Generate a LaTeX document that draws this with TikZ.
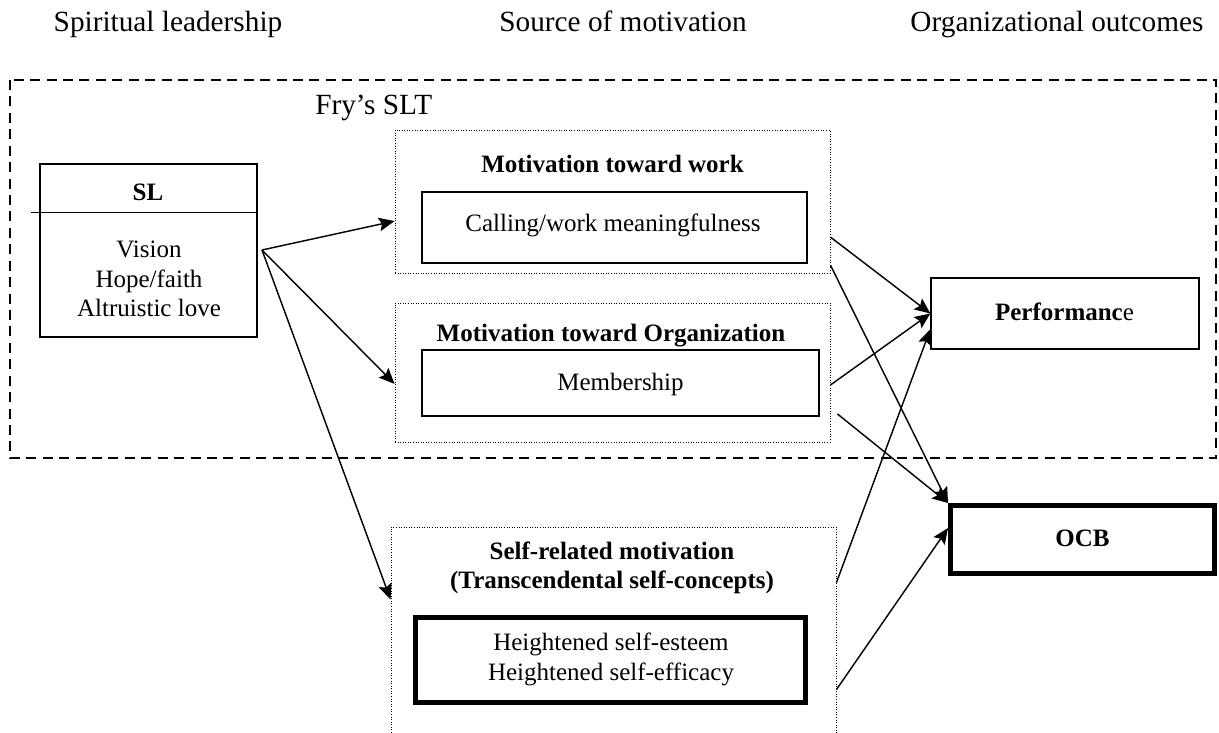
\documentclass[tikz,border=0pt]{standalone}
\usepackage{fontspec}
\setmainfont{Liberation Serif}
\usetikzlibrary{arrows.meta}

\begin{document}
\begin{tikzpicture}[x=0.7pt, y=-0.7pt,
	box/.style={draw, line width=0.9pt, inner sep=0pt},
	dotbox/.style={draw, line width=0.6pt, dash pattern=on 0.6pt off 1.2pt, inner sep=0pt},
	heavybox/.style={draw, line width=3.5pt, inner sep=0pt},
	txt/.style={font=\fontsize{17.5}{20.6}\selectfont, align=center, inner sep=0pt, anchor=base},
	btxt/.style={txt, font=\fontsize{17.5}{20}\selectfont\bfseries},
	head/.style={font=\fontsize{20.5}{24}\selectfont, inner sep=0pt, anchor=base},
	link/.style={-{Stealth[length=11pt,width=9.5pt,inset=2pt]}, line width=1pt}]
	\useasboundingbox (0,0) rectangle (1219,733);
	\clip (0,0) rectangle (1219,733);

	% column heads
	\node[head] (head-sl) at (168,32) {Spiritual leadership};
	\node[head] (head-src) at (623,32) {Source of motivation};
	\node[head] (head-out) at (1057,32) {Organizational outcomes};

	% Fry's theory frame
	\draw[line width=1.4pt, dash pattern=on 7pt off 4.5pt] (10,80) rectangle (1216,458);
	\node[head, anchor=base west] (fry) at (315,115) {Fry's SLT};

	% spiritual leadership box (base of a multi-line node = last line)
	\node[box, minimum width=151.9pt, minimum height=121.1pt] (SL) at (148.5,250.5) {};
	\draw[line width=0.9pt] ([xshift=-5.6pt,yshift=-34.3pt]SL.north west) -- ([yshift=-34.3pt]SL.north east);
	\node[btxt] (SL-title) at (148,200) {SL};
	\node[txt] (SL-items) at (149,316.7) {Vision\\Hope/faith\\Altruistic love};

	% sources of motivation
	\node[dotbox, minimum width=304.5pt, minimum height=100.1pt] (work) at (612.5,201.5) {};
	\node[btxt] (work-title) at (612.5,172.7) {Motivation toward work};
	\node[box, minimum width=269.5pt, minimum height=49.7pt] (calling) at (614.5,227.5) {};
	\node[txt] (calling-txt) at (613,231.7) {Calling/work meaningfulness};

	\node[dotbox, minimum width=304.5pt, minimum height=97.3pt] (org) at (612.5,372.5) {};
	\node[btxt] (org-title) at (611,341) {Motivation toward Organization};
	\node[box, minimum width=277.9pt, minimum height=46.2pt] (member) at (620.5,383) {};
	\node[txt] (member-txt) at (620.5,390.7) {Membership};

	\node[dotbox, minimum width=311.5pt, minimum height=191.1pt] (self) at (613.5,663.5) {};
	\node[btxt] (self-title) at (612,588) {Self-related motivation\\(Transcendental self-concepts)};
	\node[heavybox, minimum width=273pt, minimum height=59.5pt] (selfcon) at (610.5,660) {};
	\node[txt] (selfcon-txt) at (611,680) {Heightened self-esteem\\Heightened self-efficacy};

	% outcomes
	\node[box, minimum width=187.6pt, minimum height=49.7pt] (perf) at (1065,313.5) {};
	\node[txt] (perf-txt) at (1064.5,320) {\textbf{Performanc}e};
	\node[heavybox, minimum width=184.8pt, minimum height=47.6pt] (ocb) at (1082.5,539.5) {};
	\node[btxt] (ocb-txt) at (1082.5,546) {OCB};

	% paths
	\coordinate (fan) at (262,250);
	\draw[link] (fan) -- ([yshift=-13.7pt]work.west);
	\draw[link] (fan) -- ([yshift=-8pt]org.west);
	\draw[link] (fan) -- ([yshift=-51.1pt]self.north west);
	\draw[link] ([yshift=-24.9pt]work.east) -- (perf.west);
	\draw[link] ([yshift=-44.5pt]work.east) -- (ocb.north west);
	\draw[link] ([yshift=-8.75pt]org.east) -- (perf.west);
	\draw[link] ([xshift=4.9pt,yshift=-29pt]org.east) -- (ocb.north west);
	\draw[link] ([yshift=-39.2pt]self.north east) -- ([yshift=-11pt]perf.west);
	\draw[link] ([yshift=-114.1pt]self.north east) -- ([yshift=8pt]ocb.west);
\end{tikzpicture}
\end{document}
